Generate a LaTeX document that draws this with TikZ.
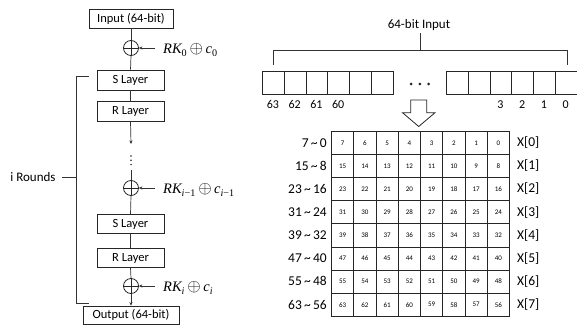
\documentclass[tikz,border=0pt]{standalone}
\usepackage{fontspec}
\setmainfont{Carlito}
\newfontfamily\keyfont{Liberation Serif}
\usetikzlibrary{arrows.meta}
\tikzset{
  box/.style={draw=black!85, line width=0.8pt, rectangle, inner sep=0pt, font=\fontsize{12.5}{14}\selectfont},
  xorn/.style={draw=black!85, line width=0.8pt, circle, minimum size=15pt, inner sep=0pt,
    path picture={\draw[line width=0.8pt,black!85] (path picture bounding box.north) -- (path picture bounding box.south)
      (path picture bounding box.west) -- (path picture bounding box.east);}},
  conn/.style={draw=black!80, line width=0.7pt},
  arr/.style={conn, -{Stealth[length=3.5pt,width=3.2pt]}},
  keylbl/.style={anchor=west, inner sep=0pt, font=\keyfont\fontsize{14.5}{16}\selectfont},
  txt/.style={font=\fontsize{12.5}{14}\selectfont, inner sep=0pt},
  bitbox/.style={draw=black!85, line width=0.8pt, minimum width=21.75pt, minimum height=23pt, inner sep=0pt, anchor=north west},
  cellbox/.style={draw=black!85, line width=0.9pt, minimum width=22.25pt, minimum height=23.1pt, inner sep=0pt, anchor=north west, font=\fontsize{7}{8}\selectfont},
}
\newcommand{\xsym}{\,{\fontsize{16}{16}\selectfont$\oplus$}\,}
\begin{document}
\begin{tikzpicture}[x=1pt,y=-1pt]
\useasboundingbox (0,0) rectangle (577,329);
% ---------------- left: round structure ----------------
\node[box, minimum width=84pt, minimum height=19pt] (in) at (131,18.5) {Input (64-bit)};
\node[xorn] (x1) at (131,48) {};
\node[box, minimum width=67pt, minimum height=20pt] (s1) at (130.5,80) {S Layer};
\node[box, minimum width=67pt, minimum height=20pt] (r1) at (130.5,111) {R Layer};
\coordinate (a1) at (131,144);
\coordinate (c2) at (131,170);
\node[xorn] (x2) at (131,188) {};
\node[box, minimum width=67pt, minimum height=19pt] (s2) at (130.5,224) {S Layer};
\node[box, minimum width=67pt, minimum height=19pt] (r2) at (130.5,258) {R Layer};
\node[xorn] (x3) at (131,286) {};
\node[box, minimum width=96pt, minimum height=18pt] (out) at (131,315) {Output (64-bit)};

\foreach \k in {0,1,2} {
  \fill[black!85] (131,156+4.3*\k) circle (0.85pt);
}

\draw[conn] (in.south) -- (x1.north);
\draw[conn] (x1.south) -- (s1.north);
\draw[conn] (s1.south) -- (r1.north);
\draw[arr] (r1.south) -- (a1);
\draw[conn] (c2) -- (x2.north);
\draw[conn] (x2.south) -- (s2.north);
\draw[conn] (s2.south) -- (r2.north);
\draw[conn] (r2.south) -- (x3.north);
\draw[arr] (x3.south) -- (out.north);

\coordinate (k1) at (155,48);
\coordinate (k2) at (155,188);
\coordinate (k3) at (155,286);
\draw[arr] (k1) -- (x1.east);
\draw[arr] (k2) -- (x2.east);
\draw[arr] (k3) -- (x3.east);
\node[keylbl] (k1l) at (163,50) {\itshape RK\textsubscript{\upshape 0}\xsym c\textsubscript{\upshape 0}};
\node[keylbl] (k2l) at (163,190) {\itshape RK\textsubscript{i\upshape −1}\xsym c\textsubscript{i\upshape −1}};
\node[keylbl] (k3l) at (163,288) {\itshape RK\textsubscript{i}\xsym c\textsubscript{i}};

% bracket
\coordinate (bt) at (89,76);
\coordinate (btl) at (76,76);
\coordinate (bbl) at (76,303);
\coordinate (bb) at (89,303);
\coordinate (bm) at (76,177);
\draw[conn] (bt) -- (btl) -- (bbl) -- (bb);
\node[txt, font=\fontsize{13}{15}\selectfont] (rounds) at (33,177) {i Rounds};
\coordinate (rd) at (62,177);
\draw[conn] (rd) -- (bm);

% ---------------- right: 64-bit input ----------------
\node[txt, font=\fontsize{13}{15}\selectfont] (title) at (419,25) {64-bit Input};
\coordinate (tb) at (420,33);
\coordinate (tm) at (420,50);
\coordinate (bl) at (273,50);
\coordinate (bl2) at (273,65);
\coordinate (br) at (567.5,50);
\coordinate (br2) at (567.5,65);
\draw[conn] (tb) -- (tm);
\draw[conn] (bl2) -- (bl) -- (br) -- (br2);

\foreach \i/\lab in {0/63,1/62,2/61,3/60,4/,5/} {
  \node[bitbox] (lb\i) at (262+21.75*\i,71) {};
  \node[txt, font=\fontsize{12}{14}\selectfont] (lbl\i) at (262+21.75*\i+10.9,104.5) {\lab};
}
\foreach \i/\lab in {0/,1/,2/3,3/2,4/1,5/0} {
  \node[bitbox] (rb\i) at (446+21.75*\i,71) {};
  \node[txt, font=\fontsize{12}{14}\selectfont] (rbl\i) at (446+21.75*\i+10.9,104.5) {\lab};
}
\foreach \i in {0,1,2} {
  \fill[black!85] (411+8.8*\i,84) circle (1.5pt);
}
\draw[line width=0.8pt, draw=black!85, fill=white]
  (410.7,100) -- (426.7,100) -- (426.7,112.7) -- (435,112.7) -- (418.7,126.5) -- (402.5,112.7) -- (410.7,112.7) -- cycle;

% grid
\foreach \r in {0,...,7} {
  \foreach \c in {0,...,7} {
    \pgfmathtruncatemacro{\v}{8*\r+7-\c}
    \node[cellbox] (g-\r-\c) at (331+22.25*\c,131+23.1*\r) {\v};
  }
  \pgfmathtruncatemacro{\hi}{8*\r+7}
  \pgfmathtruncatemacro{\lo}{8*\r}
  \node[txt, font=\fontsize{13.5}{15}\selectfont, anchor=east] (ll\r) at (327,131+23.1*\r+11.8) {\hi\,\textasciitilde\,\lo};
  \node[txt, font=\fontsize{13.5}{15}\selectfont, anchor=west] (xl\r) at (517,131+23.1*\r+11.8) {X[\r]};
}
\end{tikzpicture}
\end{document}
